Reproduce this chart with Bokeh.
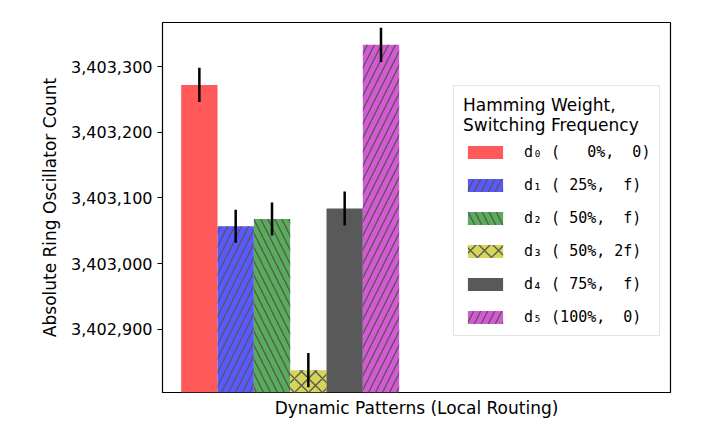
from bokeh.plotting import figure
from bokeh.models import Range1d, FixedTicker, NumeralTickFormatter, Legend, LegendItem
from bokeh.embed import file_html
from bokeh.resources import INLINE

# ---- data ----
patterns = ["d0", "d1", "d2", "d3", "d4", "d5"]
labels = ["d\u2080 (\u00a0\u00a0\u00a00%,\u00a0\u00a00)",
          "d\u2081 (\u00a025%,\u00a0\u00a0f)",
          "d\u2082 (\u00a050%,\u00a0\u00a0f)",
          "d\u2083 (\u00a050%,\u00a02f)",
          "d\u2084 (\u00a075%,\u00a0\u00a0f)",
          "d\u2085 (100%,\u00a0\u00a00)"]
means = [3403272, 3403057, 3403068, 3402838, 3403084, 3403333]
errors = [26, 25, 25, 26, 26, 26]
colors = ["#ff5959", "#5959ff", "#59ac59", "#d5d559", "#595959", "#d559d5"]
hatches = [None, "/", "\\", "x", None, "/"]
yticks = [3402900, 3403000, 3403100, 3403200, 3403300]
y_min, y_max = 3402804, 3403367

FONT = "DejaVu Sans"
MONO = "DejaVu Sans Mono"

p = figure(width=706, height=441, output_backend="svg", toolbar_location=None,
           min_border_left=162, min_border_right=36, min_border_top=22, min_border_bottom=49,
           x_range=Range1d(-1.015, 12.97), y_range=Range1d(y_min, y_max))

p.xgrid.visible = False
p.ygrid.visible = False
p.outline_line_color = "black"
p.outline_line_width = 1.2
p.outline_line_alpha = 1.0

items = []
for i in range(len(patterns)):
    kw = dict(x=[i], top=[means[i]], bottom=[y_min], width=1.0,
              fill_color=colors[i], line_color=None)
    if hatches[i]:
        kw.update(hatch_pattern=hatches[i], hatch_color="#555555",
                  hatch_scale=14, hatch_weight=1.3)
    r = p.vbar(**kw)
    items.append(LegendItem(label=labels[i], renderers=[r]))

p.segment(x0=list(range(len(patterns))), x1=list(range(len(patterns))),
          y0=[m - e for m, e in zip(means, errors)],
          y1=[m + e for m, e in zip(means, errors)],
          line_color="black", line_width=2.5)

# axes
p.yaxis.ticker = FixedTicker(ticks=yticks)
p.yaxis.formatter = NumeralTickFormatter(format="0,0")
p.yaxis.minor_tick_line_color = None
p.yaxis.major_tick_out = 5
p.yaxis.major_tick_in = 0
p.yaxis.major_label_standoff = 5
p.yaxis.axis_line_color = None
p.yaxis.major_label_text_font = FONT
p.yaxis.major_label_text_font_size = "16px"
p.yaxis.major_label_text_color = "black"
p.yaxis.axis_label = "Absolute Ring Oscillator Count"
p.yaxis.axis_label_text_font = FONT
p.yaxis.axis_label_text_font_size = "17px"
p.yaxis.axis_label_text_font_style = "normal"
p.yaxis.axis_label_text_color = "black"
p.yaxis.axis_label_standoff = 8

p.xaxis.ticker = FixedTicker(ticks=[])
p.xaxis.minor_tick_line_color = None
p.xaxis.major_tick_line_color = None
p.xaxis.axis_line_color = None
p.xaxis.major_label_text_font_size = "0px"
p.xaxis.major_label_standoff = 0
p.xaxis.major_tick_out = 0
p.xaxis.axis_label = "Dynamic Patterns (Local Routing)"
p.xaxis.axis_label_text_font = FONT
p.xaxis.axis_label_text_font_size = "17px"
p.xaxis.axis_label_text_font_style = "normal"
p.xaxis.axis_label_text_color = "black"
p.xaxis.axis_label_standoff = 5

legend = Legend(items=items, location=(291, 56),
                title="Hamming Weight,\nSwitching Frequency",
                title_text_font=FONT, title_text_font_size="17px",
                title_text_font_style="normal", title_text_color="black",
                title_text_line_height=1.2,
                title_standoff=8,
                label_text_font=MONO, label_text_font_size="15px",
                label_text_color="black",
                glyph_width=44, glyph_height=16, label_height=16,
                label_standoff=17, spacing=15, padding=9, margin=0,
                border_line_color="#cccccc", border_line_width=1,
                background_fill_color="white", background_fill_alpha=0.8)
p.add_layout(legend, "center")

open("out.html", "w").write(file_html(p, INLINE))
